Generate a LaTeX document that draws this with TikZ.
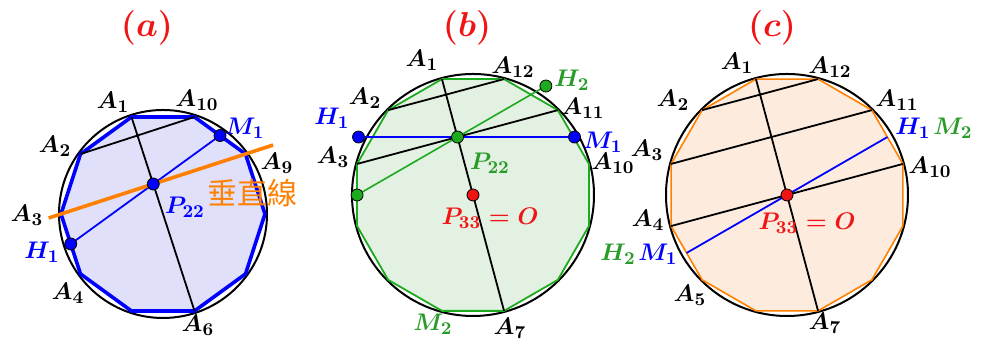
\documentclass[tikz,border=0pt]{standalone}
\usepackage{amsmath,amssymb}
\usepackage{fontspec}
\newfontfamily\cjkfont{Noto Sans CJK TC}
\usepackage{xcolor}
\usepackage{tikz}
\usetikzlibrary{calc, positioning}

\definecolor{ptblue}{RGB}{0,0,255}
\definecolor{ptgreen}{RGB}{30,170,30}
\definecolor{txtgreen}{RGB}{40,155,40}
\definecolor{ptred}{RGB}{240,20,20}
\definecolor{lineorange}{RGB}{255,128,0}
\definecolor{fillblue}{RGB}{224,224,250}
\definecolor{fillgreen}{RGB}{226,241,226}
\definecolor{fillorange}{RGB}{253,236,222}

\begin{document}
\begin{tikzpicture}[x=0.5pt, y=0.5pt, line join=round,
  lbl/.style={font=\fontsize{13}{15}\selectfont\boldmath, inner sep=0pt},
  ttl/.style={font=\fontsize{16}{18}\selectfont\boldmath, text=ptred},
  rim/.style={draw=black, line width=1pt},
  chord/.style={draw=black, line width=0.9pt},
  dot/.style={circle, draw=black, line width=0.4pt, inner sep=0pt, minimum size=6pt}]
  \useasboundingbox (0,0) rectangle (982,340);

  % ---------- (a) regular decagon ----------
  \coordinate (Oa) at (163,126);
  \foreach \k in {1,...,10}
    \coordinate (a\k) at ($(Oa)+({108+36*(\k-1)}:102)$);
  \fill[fillblue] (a1) \foreach \k in {2,...,10}{ -- (a\k)} -- cycle;
  \draw[rim] (Oa) circle (104);
  \draw[ptblue, line width=1.8pt] (a1) \foreach \k in {2,...,10}{ -- (a\k)} -- cycle;
  \draw[chord] (a1) -- (a6) (a2) -- (a10);
  \coordinate (H1a) at ($(a3)!0.5!(a4)$);
  \coordinate (M1a) at ($(a9)!0.5!(a10)$);
  \coordinate (P22a) at (intersection of H1a--M1a and a1--a6);
  \draw[ptblue, line width=0.9pt] (H1a) -- (M1a);
  % perpendicular line through P22
  \coordinate (Ea) at ($(P22a)!55pt!90:(a1)$);
  \coordinate (Fa) at ($(P22a)!63pt!-90:(a1)$);
  \draw[lineorange, line width=1.8pt] (Ea) -- (Fa);
  \node[dot, fill=ptblue] at (H1a) {};
  \node[dot, fill=ptblue] at (M1a) {};
  \node[dot, fill=ptblue] at (P22a) {};
  \node[ttl] (ta) at (147,312) {$(a)$};
  \node[lbl] (la1)  at (113,238) {$A_1$};
  \node[lbl] (la10) at (197,240) {$A_{10}$};
  \node[lbl] (la2)  at (55,194)  {$A_2$};
  \node[lbl] (la9)  at (277,177) {$A_9$};
  \node[lbl] (la3)  at (27,125)  {$A_3$};
  \node[lbl] (la4)  at (68,47)   {$A_4$};
  \node[lbl] (la6)  at (198,15)  {$A_6$};
  \node[lbl, text=ptblue] (lH1a)  at (42,88)   {$H_1$};
  \node[lbl, text=ptblue] (lM1a)  at (245,212) {$M_1$};
  \node[lbl, text=ptblue] (lP22a) at (185,133) {$P_{22}$};
  \node[font=\cjkfont\fontsize{15}{17}\selectfont, text=lineorange, inner sep=0pt]
    (perp) at (252,147) {垂直線};

  % ---------- (b) regular dodecagon ----------
  \coordinate (Ob) at (473,145);
  \foreach \k in {1,...,12}
    \coordinate (b\k) at ($(Ob)+({105+30*(\k-1)}:120)$);
  \fill[fillgreen] (b1) \foreach \k in {2,...,12}{ -- (b\k)} -- cycle;
  \draw[rim] (Ob) circle (121);
  \draw[ptgreen, line width=0.9pt] (b1) \foreach \k in {2,...,12}{ -- (b\k)} -- cycle;
  \draw[chord] (b1) -- (b7) (b2) -- (b12) (b3) -- (b11);
  \coordinate (P22b) at (intersection of b1--b7 and b3--b11);
  \coordinate (H1b) at ($(P22b)+(-99,0)$);
  \coordinate (M1b) at ($(P22b)+(117,0)$);
  \coordinate (Lb) at ($(b3)!0.5!(b4)$);
  \coordinate (H2b) at ($(Lb)!1.88!(P22b)$);
  \draw[ptblue, line width=0.9pt] (H1b) -- (M1b);
  \draw[ptgreen, line width=0.8pt] (Lb) -- (H2b);
  \node[dot, fill=ptblue] at (H1b) {};
  \node[dot, fill=ptblue] at (M1b) {};
  \node[dot, fill=ptgreen] at (P22b) {};
  \node[dot, fill=ptgreen] at (Lb) {};
  \node[dot, fill=ptgreen] at (H2b) {};
  \node[dot, fill=ptred] at (Ob) {};
  \node[ttl] (tb) at (467,312) {$(b)$};
  \node[lbl] (lb1)  at (422,280) {$A_1$};
  \node[lbl] (lb12) at (513,273) {$A_{12}$};
  \node[lbl] (lb2)  at (365,242) {$A_2$};
  \node[lbl] (lb11) at (583,232) {$A_{11}$};
  \node[lbl] (lb3)  at (333,183) {$A_3$};
  \node[lbl] (lb10) at (613,177) {$A_{10}$};
  \node[lbl] (lb7)  at (510,12)  {$A_7$};
  \node[lbl, text=txtgreen] (lH2b)  at (572,260) {$H_2$};
  \node[lbl, text=ptblue]   (lH1b)  at (332,222) {$H_1$};
  \node[lbl, text=ptblue]   (lM1b)  at (603,198) {$M_1$};
  \node[lbl, text=txtgreen] (lP22b) at (490,177) {$P_{22}$};
  \node[lbl, text=ptred]    (lOb)   at (490,122) {$P_{33}=O$};
  \node[lbl, text=txtgreen] (lM2b)  at (433,16)  {$M_2$};

  % ---------- (c) regular dodecagon ----------
  \coordinate (Oc) at (787,145);
  \foreach \k in {1,...,12}
    \coordinate (c\k) at ($(Oc)+({105+30*(\k-1)}:120)$);
  \fill[fillorange] (c1) \foreach \k in {2,...,12}{ -- (c\k)} -- cycle;
  \draw[rim] (Oc) circle (121);
  \draw[lineorange, line width=0.8pt] (c1) \foreach \k in {2,...,12}{ -- (c\k)} -- cycle;
  \draw[chord] (c1) -- (c7) (c2) -- (c12) (c3) -- (c11) (c4) -- (c10);
  \coordinate (H1c) at ($(c10)!0.5!(c11)$);
  \coordinate (M1c) at ($(c4)!0.5!(c5)$);
  \draw[ptblue, line width=0.9pt] (M1c) -- (H1c);
  \node[dot, fill=ptred] at (Oc) {};
  \node[ttl] (tc) at (772,312) {$(c)$};
  \node[lbl] (lc1)  at (737,277) {$A_1$};
  \node[lbl] (lc12) at (830,273) {$A_{12}$};
  \node[lbl] (lc2)  at (673,240) {$A_2$};
  \node[lbl] (lc11) at (897,240) {$A_{11}$};
  \node[lbl] (lc3)  at (647,190) {$A_3$};
  \node[lbl] (lc10) at (930,173) {$A_{10}$};
  \node[lbl] (lc4)  at (648,120) {$A_4$};
  \node[lbl] (lc5)  at (690,45)  {$A_5$};
  \node[lbl] (lc7)  at (825,17)  {$A_7$};
  \node[lbl, text=ptblue]   (lH1c) at (913,212) {$H_1$};
  \node[lbl, text=txtgreen, right=1pt of lH1c] (lM2c) {$M_2$};
  \node[lbl, text=ptblue]   (lM1c) at (658,86)  {$M_1$};
  \node[lbl, text=txtgreen, left=1pt of lM1c] (lH2c) {$H_2$};
  \node[lbl, text=ptred]    (lOc)  at (807,117) {$P_{33}=O$};
\end{tikzpicture}
\end{document}
